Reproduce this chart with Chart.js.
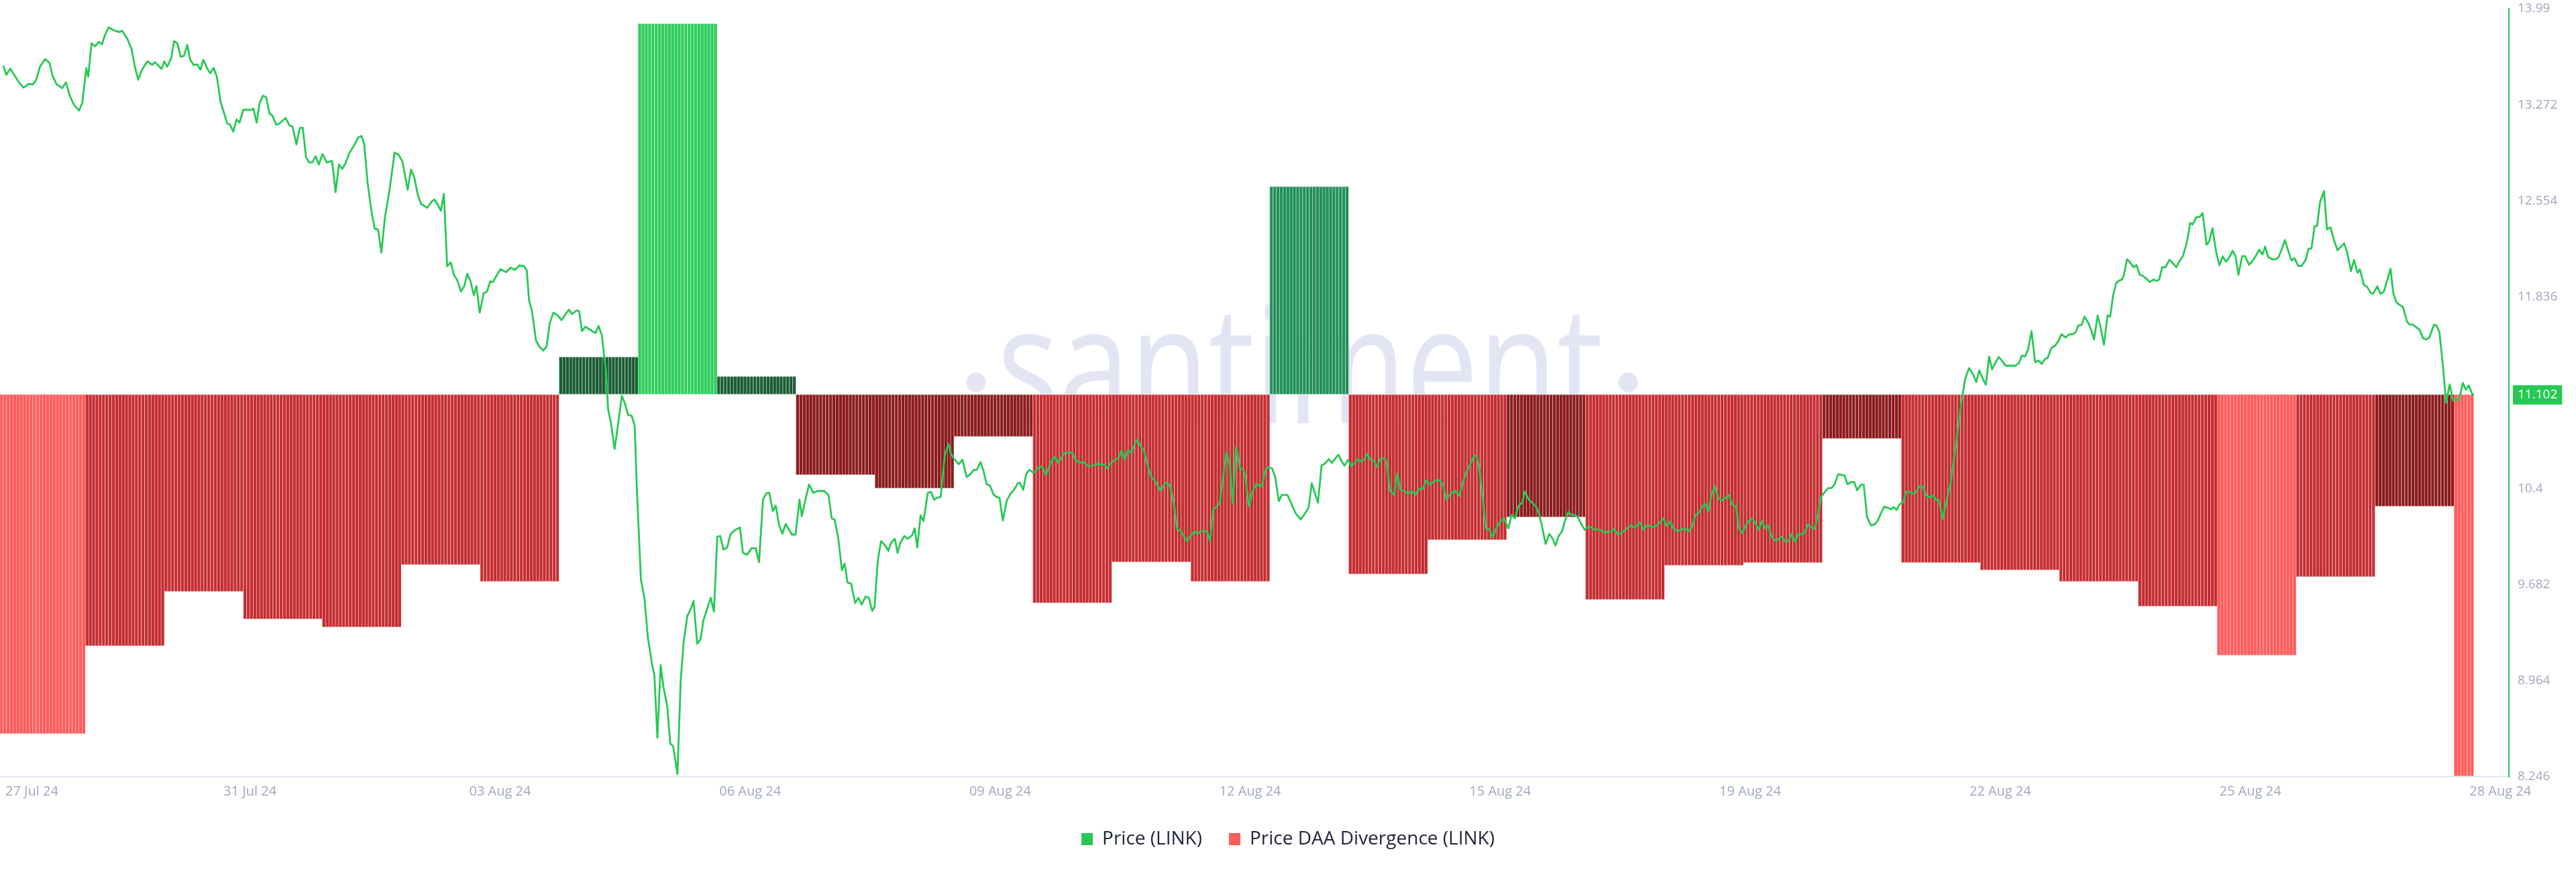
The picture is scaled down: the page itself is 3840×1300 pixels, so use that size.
<!DOCTYPE html>
<html>
<head>
<meta charset="utf-8">
<script src="https://cdn.jsdelivr.net/npm/chart.js@4.4.1/dist/chart.umd.min.js"></script>
<style>
html,body{margin:0;padding:0;background:#ffffff;}
#wrap{width:3840px;height:1300px;position:relative;}
</style>
</head>
<body>
<div id="wrap"><canvas id="c" width="3840" height="1300"></canvas></div>
<script>
// hour 0 = 28 Jul 2024 00:00 UTC
const START_UTC = Date.UTC(2024, 6, 28);
const MONTHS = ['Jan','Feb','Mar','Apr','May','Jun','Jul','Aug','Sep','Oct','Nov','Dec'];

// Daily Price-DAA divergence (27 Jul .. 28 Aug 2024)
const dayLabels = ['27 Jul','28 Jul','29 Jul','30 Jul','31 Jul','01 Aug','02 Aug','03 Aug','04 Aug','05 Aug','06 Aug','07 Aug','08 Aug','09 Aug','10 Aug','11 Aug','12 Aug','13 Aug','14 Aug','15 Aug','16 Aug','17 Aug','18 Aug','19 Aug','20 Aug','21 Aug','22 Aug','23 Aug','24 Aug','25 Aug','26 Aug','27 Aug','28 Aug'];
const divergence = [-1.012,-1.012,-0.750,-0.588,-0.670,-0.694,-0.508,-0.558,0.112,1.106,0.054,-0.240,-0.280,-0.126,-0.622,-0.500,-0.558,0.620,-0.536,-0.434,-0.366,-0.612,-0.510,-0.502,-0.132,-0.502,-0.524,-0.558,-0.632,-0.778,-0.544,-0.334,-1.138];
const divergenceShade = ['light','light','red','red','red','red','red','red','darkGreen','green','darkGreen','maroon','maroon','maroon','red','red','red','teal','red','red','maroon','red','red','red','maroon','red','red','red','red','light','red','maroon','light'];

// Price (LINK), hours since START_UTC
const priceHours = [-0.9,0.0,1.2,2.4,3.7,5.2,6.8,8.1,9.1,10.2,11.8,13.1,14.1,15.3,17.0,18.1,19.3,20.5,22.1,23.1,24.3,24.9,25.9,27.0,28.1,29.1,29.9,31.1,32.4,34.3,35.2,36.8,38.1,39.1,40.1,41.1,42.9,44.3,45.2,47.2,48.0,48.9,50.1,51.0,52.0,53.0,54.0,55.0,55.9,57.0,58.0,59.0,59.9,61.1,62.0,63.0,64.0,65.1,66.1,67.1,68.0,69.0,70.0,70.9,72.0,74.5,75.1,76.1,77.0,78.0,79.0,80.0,80.8,82.0,83.0,84.9,86.1,87.0,88.2,89.2,90.1,91.1,92.0,93.0,94.0,95.0,96.1,97.4,99.0,100.1,101.1,102.1,103.0,104.2,105.8,107.0,108.0,108.8,109.8,111.1,112.0,113.0,114.0,115.1,116.5,118.0,119.2,120.4,122.0,123.0,124.0,125.1,126.1,128.0,129.2,130.1,131.1,132.1,133.0,134.0,135.1,136.1,137.0,138.2,139.2,140.1,141.1,142.1,142.9,143.9,145.1,146.1,147.1,147.9,149.2,150.2,151.9,153.3,154.6,156.0,157.3,158.2,158.9,159.8,161.0,162.0,163.2,164.2,165.2,166.3,167.5,168.8,169.8,171.0,172.0,173.3,174.1,175.0,176.0,178.5,179.1,180.0,181.0,182.3,182.9,183.8,184.9,185.9,187.1,188.1,189.0,190.1,191.0,191.7,192.9,194.0,195.0,196.2,197.0,197.9,198.9,199.8,200.9,201.8,202.7,204.0,205.0,205.9,207.0,208.0,208.9,210.0,211.0,211.9,213.1,214.1,215.1,216.1,217.0,218.0,219.1,220.1,221.3,223.0,223.9,225.2,226.5,227.8,228.8,230.0,231.0,231.9,233.0,233.9,234.9,235.9,236.9,238.8,239.9,241.1,241.8,243.0,244.0,245.3,246.6,248.6,249.9,250.9,251.8,252.9,254.0,254.8,255.7,256.8,258.0,259.0,260.0,261.2,262.2,263.2,263.9,264.9,265.9,267.1,268.1,269.0,270.1,270.9,271.7,273.0,273.9,275.3,276.1,276.9,277.9,278.8,280.1,281.1,282.0,283.0,284.0,285.3,286.4,287.2,288.3,289.5,290.6,291.9,293.1,294.1,295.0,296.1,297.0,298.0,299.0,300.0,301.0,301.9,302.9,304.1,305.2,306.5,307.4,308.1,309.1,310.0,311.0,312.1,313.0,314.0,314.9,316.0,316.9,317.9,318.8,319.7,320.8,321.8,323.0,324.0,325.0,326.2,327.3,328.6,329.9,331.2,332.5,333.8,334.8,335.7,337.0,338.1,339.0,340.0,340.9,342.0,342.9,343.8,344.8,345.9,346.8,347.8,348.7,349.8,350.9,352.0,353.0,353.9,355.0,355.9,356.9,357.8,358.9,360.0,361.1,362.1,363.0,364.1,365.0,365.9,366.9,367.9,368.9,369.8,370.9,371.9,372.8,373.8,375.0,376.0,376.6,377.7,378.6,379.9,381.6,382.8,383.8,384.8,385.7,386.8,387.7,389.4,390.7,392.0,393.5,394.9,395.9,396.8,397.7,398.7,399.8,400.8,402.0,402.9,403.9,404.9,405.9,406.8,407.8,408.9,409.8,410.7,411.8,412.8,413.7,414.7,415.7,416.7,417.6,418.6,419.5,420.6,421.8,422.8,423.8,425.0,426.1,427.1,428.3,429.3,430.6,431.6,432.8,433.9,434.9,435.8,436.7,437.7,439.1,440.4,441.7,442.7,443.6,444.9,446.2,446.9,447.8,448.8,449.7,450.8,451.8,453.0,454.0,455.3,456.6,457.5,458.6,459.6,460.8,461.6,462.7,463.8,465.1,466.0,467.0,467.9,469.0,469.9,470.9,471.8,472.9,473.8,474.8,475.7,476.8,477.7,478.7,479.8,480.7,481.7,482.6,483.9,485.0,485.9,486.9,487.8,488.7,489.8,490.8,492.0,493.0,493.9,495.0,496.5,497.6,498.6,499.9,500.8,502.1,503.8,504.7,505.8,506.9,508.0,509.3,510.2,511.2,512.3,513.5,514.5,515.5,516.4,517.3,518.4,519.4,520.3,521.4,522.5,523.6,524.6,525.8,526.6,527.7,528.8,529.8,530.8,531.8,532.7,533.7,534.6,535.6,536.6,537.6,538.6,539.6,540.8,541.8,542.7,543.8,544.7,546.0,546.8,547.6,548.7,549.6,550.5,551.6,552.6,553.8,554.8,555.8,556.8,558.7,559.7,560.7,561.7,562.6,563.7,564.6,565.6,566.8,567.8,568.9,569.8,570.8,571.7,572.8,573.7,574.6,575.6,576.6,577.6,578.6,579.3,580.4,581.6,582.5,583.7,584.9,585.7,586.5,587.5,588.6,589.8,591.0,591.9,593.1,594.2,595.4,596.6,597.8,598.8,599.7,600.9,601.7,602.7,603.6,604.7,605.6,606.8,607.7,609.1,610.6,611.7,612.7,613.6,614.6,615.6,616.7,617.7,618.7,619.8,620.4,621.6,622.8,623.7,624.7,625.9,626.9,628.2,629.0,629.8,630.8,631.7,632.9,634.0,634.6,635.7,636.6,637.6,638.7,639.5,640.4,641.3,642.1,643.1,643.6,644.6,645.4,646.6,647.5,648.5,649.5,650.4,651.6,652.7,653.6,654.4,655.3,656.3,657.5,658.6,659.6,660.6,661.6,662.6,663.2,663.8,664.5,665.7,666.7,667.6,668.8,669.6,670.6,671.7,672.7,673.7,674.7,675.6,676.7,677.6,678.5,679.6,680.5,681.7,682.6,683.8,684.8,685.8,686.6,687.5,688.7,689.9,690.7,691.6,692.6,693.4,694.6,695.5,696.7,697.7,698.9,699.8,700.7,701.6,702.4,703.3,704.5,705.4,706.5,707.4,708.6,709.5,710.6,711.5,712.7,713.6,714.7,715.4,716.6,717.6,718.8,719.5,720.7,721.7,722.7,723.6,724.7,725.6,726.5,727.7,728.5,729.7,730.5,731.4,732.6,733.5,734.6,735.5,736.5,737.9,738.7,739.6,740.6,741.6,742.7,743.7,744.7,745.5,746.7,747.6,748.5,749.6,750.1];
const priceValues = [13.564,13.496,13.541,13.496,13.445,13.400,13.427,13.424,13.459,13.556,13.613,13.586,13.485,13.425,13.396,13.440,13.339,13.273,13.228,13.288,13.545,13.481,13.731,13.709,13.742,13.724,13.787,13.850,13.832,13.815,13.825,13.764,13.686,13.554,13.459,13.529,13.597,13.570,13.590,13.539,13.597,13.556,13.619,13.747,13.731,13.631,13.637,13.720,13.608,13.568,13.574,13.534,13.608,13.541,13.507,13.547,13.481,13.295,13.217,13.134,13.123,13.071,13.161,13.138,13.234,13.234,13.243,13.138,13.283,13.339,13.328,13.205,13.194,13.123,13.131,13.172,13.116,13.109,12.975,13.098,13.100,12.881,12.841,12.841,12.887,12.825,12.903,12.841,12.852,12.619,12.825,12.792,12.829,12.907,12.971,13.028,13.038,12.975,12.692,12.456,12.344,12.339,12.166,12.433,12.635,12.914,12.899,12.847,12.635,12.787,12.729,12.595,12.529,12.501,12.546,12.563,12.527,12.478,12.606,12.064,12.093,11.997,11.964,11.875,11.915,12.008,11.952,11.847,11.915,11.717,11.863,11.874,11.952,11.945,12.002,12.042,12.020,12.053,12.037,12.071,12.064,12.035,11.807,11.728,11.509,11.464,11.434,11.460,11.639,11.717,11.699,11.661,11.699,11.739,11.706,11.733,11.728,11.579,11.612,11.572,11.565,11.617,11.549,11.270,10.999,10.887,10.697,10.872,11.095,11.033,10.953,10.945,10.872,10.376,9.721,9.577,9.289,9.098,9.003,8.538,9.081,8.907,8.777,8.496,8.474,8.266,8.970,9.258,9.449,9.497,9.561,9.241,9.273,9.417,9.507,9.584,9.481,10.040,10.047,9.945,9.960,10.057,10.088,10.110,9.920,9.906,9.955,9.955,9.850,10.318,10.366,10.370,10.232,10.274,10.127,10.063,10.136,10.057,10.057,10.318,10.196,10.328,10.431,10.370,10.383,10.383,10.354,10.178,10.169,10.025,9.791,9.840,9.699,9.689,9.545,9.584,9.535,9.594,9.584,9.487,9.514,9.865,10.009,9.977,9.935,9.999,10.025,9.920,9.993,10.047,10.025,10.050,10.104,9.960,10.201,10.159,10.370,10.376,10.318,10.334,10.338,10.657,10.734,10.657,10.617,10.584,10.617,10.488,10.510,10.542,10.542,10.600,10.536,10.434,10.424,10.360,10.338,10.334,10.162,10.312,10.360,10.399,10.440,10.446,10.392,10.511,10.542,10.520,10.536,10.568,10.562,10.504,10.559,10.617,10.638,10.594,10.638,10.670,10.670,10.670,10.617,10.594,10.600,10.574,10.568,10.584,10.584,10.578,10.551,10.594,10.617,10.632,10.687,10.617,10.687,10.670,10.728,10.766,10.718,10.680,10.584,10.498,10.472,10.431,10.383,10.434,10.446,10.408,10.264,10.095,10.088,10.050,10.009,10.047,10.082,10.063,10.079,10.088,10.072,10.009,10.248,10.264,10.296,10.472,10.670,10.575,10.287,10.712,10.551,10.542,10.496,10.271,10.363,10.435,10.418,10.546,10.563,10.550,10.488,10.307,10.354,10.354,10.282,10.212,10.170,10.221,10.262,10.441,10.371,10.296,10.575,10.588,10.622,10.593,10.625,10.655,10.605,10.572,10.617,10.568,10.592,10.617,10.605,10.622,10.663,10.617,10.608,10.563,10.622,10.630,10.610,10.383,10.354,10.513,10.393,10.380,10.363,10.383,10.354,10.396,10.400,10.463,10.430,10.455,10.466,10.460,10.430,10.321,10.366,10.383,10.346,10.446,10.513,10.580,10.647,10.647,10.546,10.321,10.104,10.095,10.037,10.112,10.154,10.179,10.104,10.204,10.179,10.271,10.296,10.380,10.321,10.296,10.262,10.204,10.095,9.987,10.062,10.032,9.975,10.045,10.082,10.162,10.226,10.204,10.204,10.187,10.137,10.092,10.115,10.112,10.095,10.095,10.087,10.070,10.079,10.079,10.099,10.059,10.065,10.090,10.112,10.125,10.109,10.149,10.095,10.125,10.120,10.112,10.132,10.179,10.120,10.154,10.099,10.082,10.095,10.104,10.079,10.112,10.204,10.221,10.266,10.287,10.229,10.363,10.416,10.332,10.312,10.330,10.354,10.282,10.266,10.104,10.070,10.129,10.162,10.176,10.137,10.095,10.159,10.104,10.125,10.042,10.012,10.020,10.042,10.004,10.012,10.062,10.004,10.062,10.059,10.079,10.132,10.112,10.099,10.179,10.337,10.371,10.405,10.405,10.438,10.508,10.500,10.433,10.450,10.450,10.388,10.430,10.430,10.187,10.125,10.132,10.162,10.216,10.266,10.260,10.246,10.262,10.242,10.287,10.299,10.380,10.376,10.362,10.371,10.421,10.416,10.344,10.336,10.350,10.317,10.314,10.174,10.317,10.443,10.604,10.819,11.033,11.221,11.302,11.257,11.198,11.284,11.216,11.177,11.389,11.293,11.346,11.386,11.352,11.320,11.320,11.320,11.338,11.397,11.389,11.445,11.579,11.346,11.359,11.334,11.374,11.374,11.451,11.472,11.502,11.556,11.531,11.553,11.556,11.571,11.621,11.624,11.687,11.637,11.567,11.517,11.696,11.606,11.477,11.696,11.687,11.848,11.937,11.955,11.965,11.991,12.116,12.098,12.057,12.072,12.000,11.991,11.973,11.946,11.965,11.955,11.965,12.057,12.057,12.113,12.086,12.057,12.104,12.140,12.224,12.296,12.389,12.376,12.430,12.433,12.462,12.224,12.251,12.349,12.171,12.072,12.138,12.098,12.125,12.179,12.140,12.000,12.140,12.140,12.075,12.098,12.143,12.188,12.152,12.211,12.134,12.116,12.116,12.134,12.188,12.260,12.197,12.107,12.125,12.066,12.066,12.111,12.194,12.197,12.362,12.367,12.546,12.627,12.340,12.355,12.269,12.183,12.206,12.236,12.171,12.027,12.111,12.015,12.040,11.925,11.910,11.860,11.860,11.914,11.857,11.875,11.950,12.045,11.857,11.795,11.771,11.759,11.651,11.628,11.628,11.606,11.589,11.526,11.517,11.529,11.628,11.621,11.567,11.329,11.043,11.180,11.060,11.069,11.060,11.191,11.141,11.173,11.105,11.102];

const PRICE_MIN = 8.246, PRICE_MAX = 13.99, PRICE_STEP = 0.718;
const X_MIN = -1.92, X_MAX = 760.7, X_TICK_STEP = 76;
const BAR_MIN = -1.14, BAR_MAX = 1.15;

const GREEN = '#26c953';
const SHADES = {
  light:     {fill:'#ff5c5c', edge:'#ffabab'},
  red:       {fill:'#c42e32', edge:'#eaaeaf'},
  maroon:    {fill:'#8c1b1d', edge:'#cda8a9'},
  darkGreen: {fill:'#1b5d35', edge:'#a3bfad'},
  green:     {fill:'#2fcd5d', edge:'#a9ebbb'},
  teal:      {fill:'#21905a', edge:'#a5d1b8'}
};

function fmtDate(h) {
  const d = new Date(START_UTC + h * 3600e3);
  return String(d.getUTCDate()).padStart(2,'0') + ' ' + MONTHS[d.getUTCMonth()] + ' ' + String(d.getUTCFullYear()).slice(2);
}

// hourly table for the bar series (each hour carries its day's value)
const lastHour = Math.floor(priceHours[priceHours.length - 1]);
const hourlyBars = [];
for (let h = -24; h < lastHour; h++) {
  const di = Math.floor(h / 24) + 1;
  hourlyBars.push({x: h + 0.5, y: divergence[di], day: di});
}
const pricePoints = priceHours.map((h, i) => ({x: h, y: priceValues[i]}));
const lastPrice = priceValues[priceValues.length - 1];

const watermark = {
  id: 'watermark',
  beforeDatasetsDraw(chart) {
    const ctx = chart.ctx;
    ctx.save();
    const text = 'santiment';
    ctx.font = '400 200px "Open Sans"';
    const w = ctx.measureText(text).width;
    const size = 200 * 903 / w;
    ctx.fillStyle = '#e3e6f2';
    ctx.translate(1938, 631);
    ctx.scale(1, 1.27);
    ctx.font = '400 ' + size.toFixed(1) + 'px "Open Sans"';
    ctx.textAlign = 'center';
    ctx.textBaseline = 'alphabetic';
    ctx.fillText(text, 0, 0);
    ctx.restore();
    ctx.save();
    ctx.fillStyle = '#e3e6f2';
    [1455, 2427].forEach(cx => { ctx.beginPath(); ctx.arc(cx, 570, 14.5, 0, Math.PI * 2); ctx.fill(); });
    ctx.restore();
  }
};

const xLabels = {
  id: 'xLabels',
  afterDraw(chart) {
    const sc = chart.scales.x;
    const ctx = chart.ctx;
    ctx.save();
    ctx.font = '20px "Open Sans"';
    ctx.fillStyle = '#a0a8c2';
    ctx.textBaseline = 'middle';
    sc.ticks.forEach((t, i) => {
      const px = sc.getPixelForValue(t.value);
      if (i === 0) { ctx.textAlign = 'left'; ctx.fillText(fmtDate(t.value), px + 8, 1180); }
      else { ctx.textAlign = 'center'; ctx.fillText(fmtDate(t.value), px, 1180); }
    });
    ctx.restore();
  }
};

function draw() {
  new Chart(document.getElementById('c'), {
    type: 'bar',
    data: {
      datasets: [
        {
          type: 'line',
          label: 'Price (LINK)',
          data: pricePoints,
          xAxisID: 'x', yAxisID: 'y',
          borderColor: GREEN, backgroundColor: GREEN,
          borderWidth: 2.8, pointRadius: 0, tension: 0, fill: false,
          borderJoinStyle: 'round',
          order: 0
        },
        {
          type: 'bar',
          label: 'Price DAA Divergence (LINK)',
          data: hourlyBars,
          xAxisID: 'x', yAxisID: 'yBar',
          backgroundColor: c => c.raw ? SHADES[divergenceShade[c.raw.day]].fill : SHADES.light.fill,
          borderColor: c => c.raw ? SHADES[divergenceShade[c.raw.day]].edge : SHADES.light.edge,
          borderWidth: {left: 1, top: 1, bottom: 1, right: 0},
          borderSkipped: false,
          barPercentage: 1, categoryPercentage: 1, grouped: false,
          order: 1
        }
      ]
    },
    options: {
      responsive: false, animation: false, devicePixelRatio: 1,
      layout: {padding: {top: 13, bottom: 25, left: 0, right: 0}},
      plugins: {
        tooltip: {enabled: false},
        legend: {
          position: 'bottom',
          labels: {
            font: {family: 'Open Sans', size: 28},
            color: '#1f2337',
            boxWidth: 17, boxHeight: 18, padding: 40,
            generateLabels: () => [
              {text: 'Price (LINK)', fillStyle: GREEN, strokeStyle: GREEN, lineWidth: 0, hidden: false, datasetIndex: 0, fontColor: '#1f2337'},
              {text: 'Price DAA Divergence (LINK)', fillStyle: SHADES.light.fill, strokeStyle: SHADES.light.fill, lineWidth: 0, hidden: false, datasetIndex: 1, fontColor: '#1f2337'}
            ]
          }
        }
      },
      scales: {
        x: {
          type: 'linear', min: X_MIN, max: X_MAX, offset: false,
          grid: {display: false, drawTicks: false},
          border: {display: true, color: '#e3e7f3', width: 2},
          ticks: {display: false},
          afterBuildTicks: s => {
            const t = [];
            for (let v = X_MIN; v <= X_MAX; v += X_TICK_STEP) t.push({value: v});
            s.ticks = t;
          },
          afterFit: s => { s.height = 39; s.paddingLeft = 0; s.paddingRight = 0; }
        },
        y: {
          type: 'linear', position: 'right', min: PRICE_MIN, max: PRICE_MAX,
          grid: {display: false, drawTicks: false},
          border: {display: true, color: GREEN, width: 2},
          afterBuildTicks: s => {
            const t = [];
            for (let i = 0; i <= Math.round((PRICE_MAX - PRICE_MIN) / PRICE_STEP); i++) {
              const v = +(PRICE_MIN + i * PRICE_STEP).toFixed(3);
              if (Math.abs(v - lastPrice) > PRICE_STEP / 3) t.push({value: v});
            }
            t.push({value: lastPrice});
            t.sort((a, b) => a.value - b.value);
            s.ticks = t;
          },
          ticks: {
            padding: 13,
            font: {family: 'Open Sans', size: 19},
            color: c => c.tick && c.tick.value === lastPrice ? '#ffffff' : '#a0a8c2',
            showLabelBackdrop: c => !!(c.tick && c.tick.value === lastPrice),
            backdropColor: GREEN,
            backdropPadding: {top: 3, bottom: 3, left: 7, right: 7},
            callback: v => String(+(+v).toFixed(3))
          },
          afterFit: s => { s.width = 100; s.paddingTop = 0; s.paddingBottom = 0; }
        },
        yBar: {
          type: 'linear', display: false, min: BAR_MIN, max: BAR_MAX,
          grid: {display: false}
        }
      }
    },
    plugins: [watermark, xLabels]
  });
}

Promise.all([
  document.fonts.load('19px "Open Sans"'),
  document.fonts.load('28px "Open Sans"'),
  document.fonts.load('200px "Open Sans"')
]).then(draw, draw);
</script>
</body>
</html>
